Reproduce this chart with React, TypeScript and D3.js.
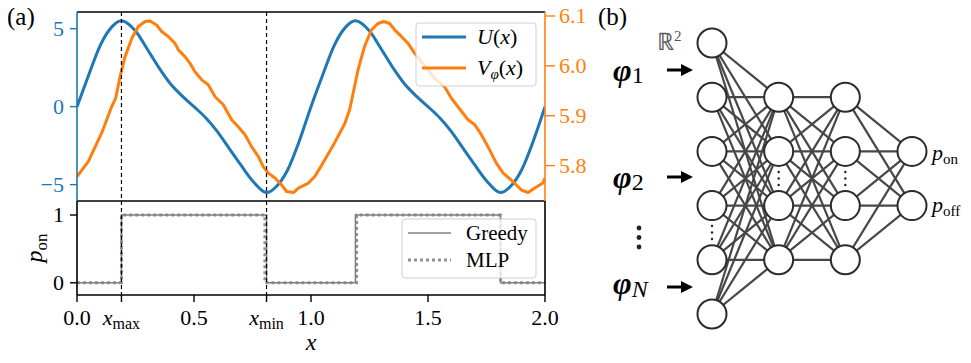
import React from "react";
import * as d3 from "d3";

// ---------- data ----------
const U_X = [0, 0.05, 0.1, 0.15, 0.19, 0.25, 0.3, 0.35, 0.4, 0.45, 0.5, 0.55, 0.6, 0.65, 0.7, 0.75, 0.81, 0.85, 0.9, 0.95, 1.0,
  1.05, 1.1, 1.15, 1.19, 1.25, 1.3, 1.35, 1.4, 1.45, 1.5, 1.55, 1.6, 1.65, 1.7, 1.75, 1.81, 1.85, 1.9, 1.95, 2.0];
const U_Y = [0, 2.03, 3.95, 5.13, 5.51, 4.85, 3.7, 2.5, 1.45, 0.68, 0, -0.71, -1.6, -2.67, -3.74, -4.75, -5.51, -5.15, -4.06, -2.2, 0,
  2.03, 3.95, 5.13, 5.51, 4.85, 3.7, 2.5, 1.45, 0.68, 0, -0.71, -1.6, -2.67, -3.74, -4.75, -5.51, -5.15, -4.06, -2.2, 0];

const V_X = [0, 0.048, 0.105, 0.148, 0.165, 0.184, 0.205, 0.234, 0.262, 0.291, 0.312, 0.34, 0.362, 0.39, 0.419, 0.433, 0.462, 0.483,
  0.504, 0.533, 0.561, 0.59, 0.625, 0.661, 0.689, 0.718, 0.746, 0.775, 0.796, 0.818, 0.846, 0.875, 0.896, 0.925, 0.946, 0.989,
  1.016, 1.051, 1.1, 1.145, 1.165, 1.18, 1.201, 1.229, 1.258, 1.286, 1.312, 1.336, 1.364, 1.386, 1.415, 1.443, 1.472, 1.5, 1.528,
  1.571, 1.6, 1.628, 1.671, 1.7, 1.728, 1.764, 1.792, 1.821, 1.856, 1.899, 1.928, 1.956, 1.991, 2.0];
const V_Y = [5.778, 5.808, 5.865, 5.918, 5.935, 5.978, 6.018, 6.055, 6.079, 6.089, 6.09, 6.082, 6.069, 6.059, 6.045, 6.032, 6.018, 6.005,
  5.988, 5.972, 5.962, 5.938, 5.922, 5.892, 5.878, 5.862, 5.838, 5.818, 5.798, 5.785, 5.775, 5.761, 5.748, 5.746, 5.755, 5.765,
  5.778, 5.805, 5.845, 5.885, 5.912, 5.945, 5.992, 6.039, 6.072, 6.085, 6.089, 6.085, 6.069, 6.059, 6.045, 6.025, 6.008, 5.992, 5.975,
  5.958, 5.935, 5.918, 5.892, 5.882, 5.862, 5.831, 5.805, 5.785, 5.771, 5.751, 5.746, 5.755, 5.765, 5.775];

const GREEDY_X = [0, 0.19, 0.81, 1.19, 1.81, 2.0];
const GREEDY_P = [0, 1, 0, 1, 0, 0];
const MLP_X = [0, 0.19, 0.803, 1.195, 1.81, 2.0];
const MLP_P = [0, 1, 0, 1, 0, 0];

const X_MAX = 0.19;
const X_MIN = 0.81;
const X_TICKS = [0, 0.5, 1.0, 1.5, 2.0];
const U_TICKS = [5, 0, -5];
const V_TICKS = [6.1, 6.0, 5.9, 5.8];
const P_TICKS = [1, 0];
const LAYER_SIZES = [6, 4, 4, 2];

// ---------- style ----------
const BLUE = "#1f77b4";
const ORANGE = "#ff7f0e";
const GRAY = "#808080";

export default function App() {
  const L = 77, R = 545, T = 12, MID = 201, B = 295;
  const x = d3.scaleLinear().domain([0, 2]).range([L, R]);
  const yU = d3.scaleLinear().domain([-6.05, 6.07]).range([MID, T]);
  const yV = d3.scaleLinear().domain([5.729, 6.108]).range([MID, T]);
  const yP = d3.scaleLinear().domain([-0.18, 1.207]).range([B, MID]);

  const uLine = d3.line<number>().x((_, i) => x(U_X[i])).y((d) => yU(d)).curve(d3.curveMonotoneX);
  const vLine = d3.line<number>().x((_, i) => x(V_X[i])).y((d) => yV(d)).curve(d3.curveLinear);
  const gLine = d3.line<number>().x((_, i) => x(GREEDY_X[i])).y((d) => yP(d)).curve(d3.curveStepAfter);
  const mLine = d3.line<number>().x((_, i) => x(MLP_X[i])).y((d) => yP(d)).curve(d3.curveStepAfter);

  const tick = 7;
  const fs = 22;
  const ser = { fontFamily: `"Liberation Serif"` };

  // network layout
  const layerX = d3.scalePoint<number>().domain(LAYER_SIZES.map((_, i) => i)).range([712, 912]);
  const nodeGap = 54.2;
  const centerY = 178.5;
  const nodes = LAYER_SIZES.map((n, li) =>
    d3.range(n).map((j) => ({ x: layerX(li) as number, y: centerY + (j - (n - 1) / 2) * nodeGap }))
  );
  const edges: { x1: number; y1: number; x2: number; y2: number }[] = [];
  for (let li = 0; li < nodes.length - 1; li++) {
    for (const a of nodes[li]) for (const b of nodes[li + 1]) edges.push({ x1: a.x, y1: a.y, x2: b.x, y2: b.y });
  }
  const r = 14.5;

  const arrow = (y: number) => (
    <g>
      <line x1={667} y1={y} x2={684} y2={y} stroke="black" strokeWidth={3} />
      <path d={`M${681},${y - 6} L${693},${y} L${681},${y + 6} Z`} fill="black" />
    </g>
  );

  const vdots = (cx: number, y0: number, step: number, rr: number) => (
    <g>
      {[0, 1, 2].map((k) => (
        <circle key={k} cx={cx} cy={y0 + k * step} r={rr} fill="#222" />
      ))}
    </g>
  );

  return (
    <svg width={971} height={363} style={{ display: "block", margin: "-8px 0 0 -8px" }}>
      <defs>
        <clipPath id="clipTop">
          <rect x={L} y={T} width={R - L} height={MID - T} />
        </clipPath>
        <clipPath id="clipBot">
          <rect x={L} y={MID} width={R - L} height={B - MID} />
        </clipPath>
      </defs>
      <rect x={0} y={0} width={971} height={363} fill="white" />

      {/* panel label */}
      <text style={ser} x={7} y={25} fontSize={25}>(a)</text>

      {/* ---- top panel curves ---- */}
      <g clipPath="url(#clipTop)">
        <path d={uLine(U_Y) || ""} fill="none" stroke={BLUE} strokeWidth={3} />
        <path d={vLine(V_Y) || ""} fill="none" stroke={ORANGE} strokeWidth={3} strokeLinejoin="round" />
      </g>

      {/* ---- bottom panel steps ---- */}
      <g clipPath="url(#clipBot)">
        <path d={gLine(GREEDY_P) || ""} fill="none" stroke={GRAY} strokeWidth={1.6} />
        <path d={mLine(MLP_P) || ""} fill="none" stroke={GRAY} strokeWidth={3} strokeDasharray="3,3" opacity={0.85} />
      </g>

      {/* dashed verticals */}
      {[X_MAX, X_MIN].map((v) => (
        <line key={v} x1={x(v)} x2={x(v)} y1={T} y2={B} stroke="black" strokeWidth={1.2} strokeDasharray="4,3" />
      ))}

      {/* spines */}
      <line x1={L} x2={R} y1={T} y2={T} stroke="black" strokeWidth={1.6} />
      <line x1={L} x2={R} y1={MID} y2={MID} stroke="black" strokeWidth={1.6} />
      <line x1={L} x2={R} y1={B} y2={B} stroke="black" strokeWidth={1.6} />
      <line x1={L} x2={L} y1={T} y2={MID} stroke={BLUE} strokeWidth={1.6} />
      <line x1={R} x2={R} y1={T} y2={MID} stroke={ORANGE} strokeWidth={1.6} />
      <line x1={L} x2={L} y1={MID} y2={B} stroke="black" strokeWidth={1.6} />
      <line x1={R} x2={R} y1={MID} y2={B} stroke="black" strokeWidth={1.6} />

      {/* left U ticks */}
      {U_TICKS.map((t) => (
        <g key={"u" + t}>
          <line x1={L - tick} x2={L} y1={yU(t)} y2={yU(t)} stroke={BLUE} strokeWidth={1.4} />
          <text style={ser} x={L - 13} y={yU(t) + 7} textAnchor="end" fontSize={fs} fill={BLUE}>
            {t < 0 ? "\u2212" + Math.abs(t) : String(t)}
          </text>
        </g>
      ))}
      {/* right V ticks */}
      {V_TICKS.map((t) => (
        <g key={"v" + t}>
          <line x1={R} x2={R + tick + 3} y1={yV(t)} y2={yV(t)} stroke={ORANGE} strokeWidth={1.4} />
          <text style={ser} x={R + 14} y={yV(t) + 7} textAnchor="start" fontSize={fs} fill={ORANGE}>
            {t.toFixed(1)}
          </text>
        </g>
      ))}
      {/* left P ticks */}
      {P_TICKS.map((t) => (
        <g key={"p" + t}>
          <line x1={L - tick} x2={L} y1={yP(t)} y2={yP(t)} stroke="black" strokeWidth={1.4} />
          <text style={ser} x={L - 13} y={yP(t) + 7} textAnchor="end" fontSize={fs} fill="black">
            {String(t)}
          </text>
        </g>
      ))}
      {/* bottom x ticks */}
      {[...X_TICKS, X_MAX, X_MIN].map((t) => (
        <line key={"x" + t} x1={x(t)} x2={x(t)} y1={B} y2={B + tick} stroke="black" strokeWidth={1.4} />
      ))}
      {X_TICKS.map((t) => (
        <text style={ser} key={"xl" + t} x={x(t)} y={325} textAnchor="middle" fontSize={fs}>
          {t.toFixed(1)}
        </text>
      ))}
      <text style={ser} x={x(X_MAX)} y={325} textAnchor="middle" fontSize={fs}>
        <tspan fontStyle="italic">x</tspan>
        <tspan fontSize={16} dy={4}>max</tspan>
      </text>
      <text style={ser} x={x(X_MIN)} y={325} textAnchor="middle" fontSize={fs}>
        <tspan fontStyle="italic">x</tspan>
        <tspan fontSize={16} dy={4}>min</tspan>
      </text>

      {/* axis labels */}
      <text style={ser} x={x(1)} y={350} textAnchor="middle" fontSize={24} fontStyle="italic">x</text>
      <text style={ser} transform={`translate(42, ${(MID + B) / 2}) rotate(-90)`} textAnchor="middle" fontSize={24}>
        <tspan fontStyle="italic">p</tspan>
        <tspan fontSize={17} dy={5}>on</tspan>
      </text>

      {/* top legend */}
      <g>
        <rect x={416} y={23} width={120} height={63} rx={3} fill="white" fillOpacity={0.8} stroke="#d0d0d0" strokeWidth={1} />
        <line x1={422} x2={466} y1={37} y2={37} stroke={BLUE} strokeWidth={3} />
        <line x1={422} x2={466} y1={68} y2={68} stroke={ORANGE} strokeWidth={3} />
        <text style={ser} x={477} y={44} fontSize={22}>
          <tspan fontStyle="italic">U</tspan>
          <tspan>(</tspan>
          <tspan fontStyle="italic">x</tspan>
          <tspan>)</tspan>
        </text>
        <text style={ser} x={477} y={75} fontSize={22}>
          <tspan fontStyle="italic">V</tspan>
          <tspan fontStyle="italic" fontSize={15} dy={4}>φ</tspan>
          <tspan dy={-4}>(</tspan>
          <tspan fontStyle="italic">x</tspan>
          <tspan>)</tspan>
        </text>
      </g>

      {/* bottom legend */}
      <g>
        <rect x={402} y={219} width={134} height={59} rx={3} fill="white" fillOpacity={0.8} stroke="#d0d0d0" strokeWidth={1} />
        <line x1={408} x2={451} y1={233} y2={233} stroke={GRAY} strokeWidth={1.6} />
        <line x1={408} x2={451} y1={260} y2={260} stroke={GRAY} strokeWidth={3} strokeDasharray="3,3" opacity={0.85} />
        <text style={ser} x={466} y={240} fontSize={21}>Greedy</text>
        <text style={ser} x={466} y={267} fontSize={21}>MLP</text>
      </g>

      {/* ---- (b) network ---- */}
      <text style={ser} x={598} y={25} fontSize={25}>(b)</text>
      <g>
        {edges.map((e, i) => (
          <line key={i} x1={e.x1} y1={e.y1} x2={e.x2} y2={e.y2} stroke="#474747" strokeWidth={2.2} />
        ))}
        {nodes.flat().map((n, i) => (
          <circle key={i} cx={n.x} cy={n.y} r={r} fill="white" stroke="#2b2b2b" strokeWidth={2} />
        ))}
      </g>
      {vdots(layerX(0) as number, 226, 6.5, 1.2)}
      {vdots(layerX(1) as number, 172, 6.5, 1.2)}
      {vdots(layerX(2) as number, 172, 6.5, 1.2)}
      {vdots(639, 228, 9.5, 2.4)}

      <text style={ser} x={657} y={50} fontSize={24} fill="#555">
        ℝ<tspan fontSize={15} dy={-9}>2</tspan>
      </text>

      <text style={ser} x={613} y={81} fontSize={32} fontStyle="italic" fontWeight="bold">
        φ<tspan fontSize={24} fontStyle="normal" fontWeight="normal" dy={2}>1</tspan>
      </text>
      {arrow(70)}
      <text style={ser} x={613} y={188} fontSize={32} fontStyle="italic" fontWeight="bold">
        φ<tspan fontSize={24} fontStyle="normal" fontWeight="normal" dy={2}>2</tspan>
      </text>
      {arrow(177)}
      <text style={ser} x={613} y={294} fontSize={32} fontStyle="italic" fontWeight="bold">
        φ<tspan fontSize={24} fontWeight="normal" dy={3}>N</tspan>
      </text>
      {arrow(287)}

      <text style={ser} x={932} y={160} fontSize={22}>
        <tspan fontStyle="italic">p</tspan>
        <tspan fontSize={15} dy={4}>on</tspan>
      </text>
      <text style={ser} x={932} y={212} fontSize={22}>
        <tspan fontStyle="italic">p</tspan>
        <tspan fontSize={15} dy={4}>off</tspan>
      </text>
    </svg>
  );
}
